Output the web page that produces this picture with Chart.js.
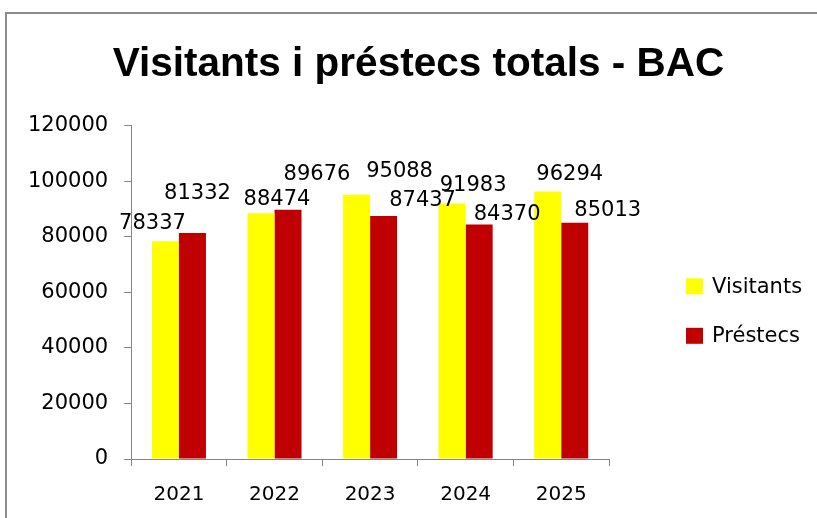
<!DOCTYPE html>
<html>
<head>
<meta charset="utf-8">
<script src="https://cdn.jsdelivr.net/npm/chart.js@4"></script>
<style>
  html, body { margin: 0; padding: 0; background: #fff; overflow: hidden; }
  #frame {
    position: absolute; left: 5px; top: 12px;
    width: 810px; height: 504px;
    border-left: 2px solid #8c8c8c; border-top: 2px solid #8c8c8c;
  }
</style>
</head>
<body>
<div id="frame"><canvas id="chart" width="810" height="504"></canvas></div>
<script>
// data
const years = ['2021', '2022', '2023', '2024', '2025'];
const visitants = [78337, 88474, 95088, 91983, 96294];
const prestecs = [81332, 89676, 87437, 84370, 85013];

// hand placed value labels (offset from bar top centre, px)
const visitantsLabelDx = [-13, 16, 43, 21, 22];
const visitantsLabelLift = [18, 14, 23, 18, 17];
const prestecsLabelDx = [5, 29, 39, 28, 33];
const prestecsLabelLift = [39, 35, 16, 10, 12];

const numFont = { family: 'DejaVu Sans', size: 21 };
const axisGrey = '#868686';

// value labels drawn above bars
const valueLabels = {
    id: 'valueLabels',
    afterDatasetsDraw(chart) {
        const ctx = chart.ctx;
        const shifts = [[visitantsLabelDx, visitantsLabelLift], [prestecsLabelDx, prestecsLabelLift]];
        ctx.save();
        ctx.font = '21px "DejaVu Sans"';
        ctx.fillStyle = '#000';
        ctx.textAlign = 'center';
        ctx.textBaseline = 'middle';
        chart.data.datasets.forEach((ds, i) => {
            chart.getDatasetMeta(i).data.forEach((bar, j) => {
                ctx.fillText(String(ds.data[j]), bar.x + shifts[i][0][j], bar.y - shifts[i][1][j]);
            });
        });
        ctx.restore();
    }
};

// legend on the right, Excel style
const sideLegend = {
    id: 'sideLegend',
    afterDraw(chart) {
        const ctx = chart.ctx;
        const area = chart.chartArea;
        const x = area.right + 77;
        const midY = (area.top + area.bottom) / 2;
        ctx.save();
        ctx.font = '21px "DejaVu Sans"';
        ctx.textBaseline = 'middle';
        chart.data.datasets.forEach((ds, i) => {
            const cy = midY - 6 + i * 49.5;
            ctx.fillStyle = ds.backgroundColor;
            ctx.fillRect(x, cy - 8, 17, 16);
            ctx.fillStyle = '#000';
            ctx.fillText(ds.label, x + 26, cy + 1);
        });
        ctx.restore();
    }
};

new Chart(document.getElementById('chart'), {
    type: 'bar',
    data: {
        labels: years,
        datasets: [
            { label: 'Visitants', data: visitants, backgroundColor: '#FFFF00' },
            { label: 'Préstecs', data: prestecs, backgroundColor: '#C00000' }
        ]
    },
    options: {
        responsive: false,
        animation: false,
        layout: { padding: { left: 5, right: -8, bottom: -6, top: 0 } },
        datasets: { bar: { barPercentage: 1.0, categoryPercentage: 0.565 } },
        plugins: {
            legend: { display: false },
            tooltip: { enabled: false },
            title: {
                display: true,
                text: 'Visitants i préstecs totals - BAC',
                color: '#000',
                font: { family: 'Liberation Sans', size: 40.5, weight: 'bold' },
                padding: { top: 27, bottom: 36 }
            }
        },
        scales: {
            x: {
                grid: { drawOnChartArea: false, color: axisGrey, tickLength: 7 },
                border: { color: axisGrey },
                ticks: { color: '#000', font: { family: 'DejaVu Sans', size: 20 }, padding: 17 }
            },
            y: {
                min: 0,
                max: 120000,
                grid: { drawOnChartArea: false, color: axisGrey, tickLength: 7 },
                border: { color: axisGrey },
                ticks: { stepSize: 20000, color: '#000', font: numFont, padding: 16, callback: v => String(v) }
            },
            // empty right axis that keeps room for the legend
            side: {
                position: 'right',
                grid: { display: false },
                border: { display: false },
                ticks: { display: false },
                afterFit: scale => { scale.width = 216; }
            }
        }
    },
    plugins: [valueLabels, sideLegend]
});
</script>
</body>
</html>
